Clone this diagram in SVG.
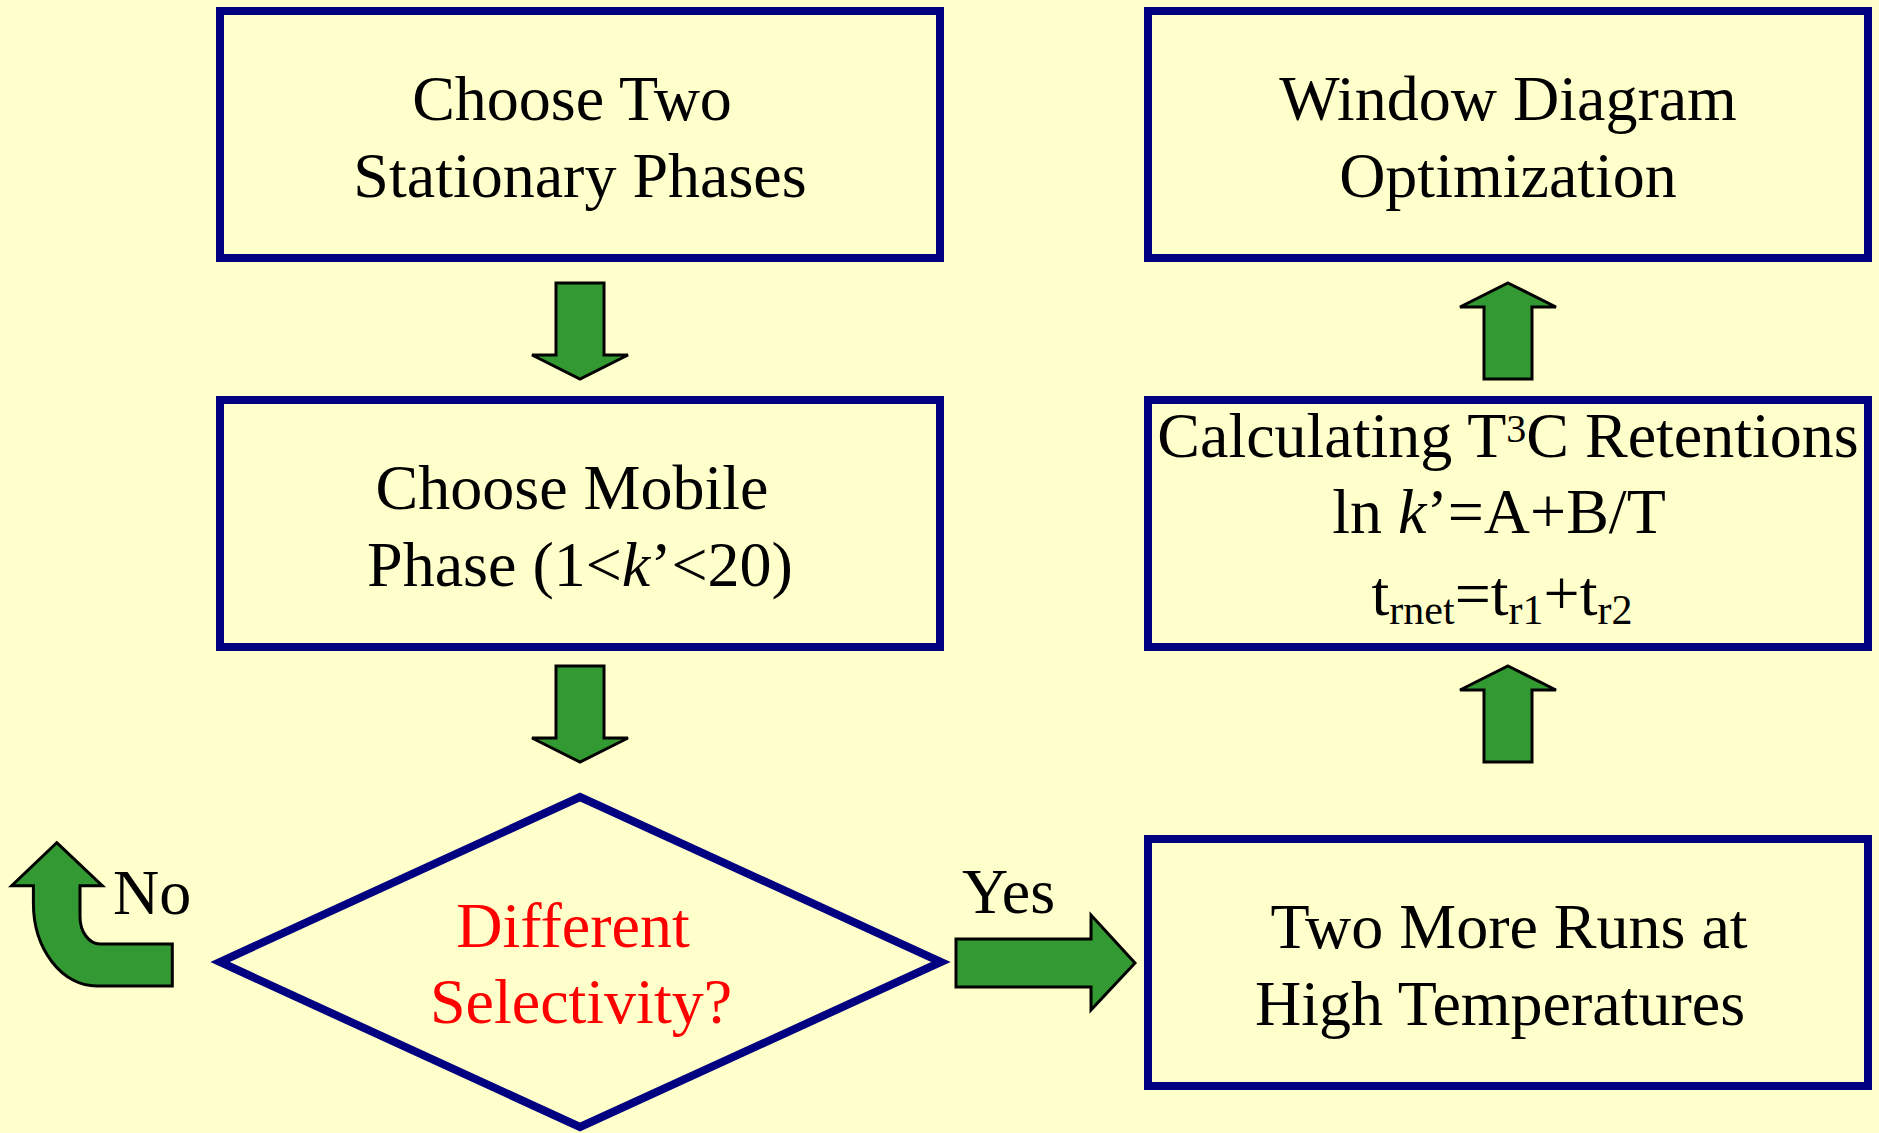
<svg xmlns="http://www.w3.org/2000/svg" width="1879" height="1133" viewBox="0 0 1879 1133">
<style>
.bg{fill:#FFFFCC}
.box{fill:#FFFFCC;stroke:#000080;stroke-width:8}
.arr{fill:#339933;stroke:#000000;stroke-width:3;stroke-linejoin:miter}
.t{font-family:"Liberation Serif","Times New Roman",serif;font-size:64px;fill:#000000;text-anchor:middle}
.red{fill:#FF0000}
.lbl{font-family:"Liberation Serif","Times New Roman",serif;font-size:64px;fill:#000000}
</style>
<rect class="bg" x="0" y="0" width="1879" height="1133"/>
<g id="connectors">
  <polygon class="arr" points="556,283 604,283 604,355 628,355 580,379 532,355 556,355"/>
  <polygon class="arr" points="556,666 604,666 604,738 628,738 580,762 532,738 556,738"/>
  <polygon class="arr" points="1508,283 1556,307 1532,307 1532,379 1484,379 1484,307 1460,307"/>
  <polygon class="arr" points="1508,666 1556,690 1532,690 1532,762 1484,762 1484,690 1460,690"/>
  <polygon class="arr" points="956,939 1091,939 1091,915 1135,963 1091,1010 1091,987 956,987"/>
  <path class="arr" d="M56.7,842.7 L102.3,885.7 L80,885.7 L80,916.7 A20,27.3 0 0 0 100,944 L172.3,944 L172.3,986 L96.7,986 A63.3,82.7 0 0 1 33.4,903.3 L33.4,885.7 L11.7,885.7 Z"/>
  <text class="lbl" x="113" y="914">No</text>
  <text class="lbl" x="962" y="913">Yes</text>
</g>
<g id="node-stationary">
  <rect class="box" x="220" y="11" width="720" height="247"/>
  <text class="t" x="572" y="120">Choose Two</text>
  <text class="t" x="580" y="197">Stationary Phases</text>
</g>
<g id="node-mobile">
  <rect class="box" x="220" y="400" width="720" height="247"/>
  <text class="t" x="572" y="509">Choose Mobile</text>
  <text class="t" x="580" y="586">Phase (1&lt;<tspan font-style="italic">k</tspan>’&lt;20)</text>
</g>
<g id="node-selectivity">
  <polygon class="box" points="580,797 941,962 580,1127 220,962"/>
  <text class="t red" x="573" y="947">Different</text>
  <text class="t red" x="581" y="1023">Selectivity?</text>
</g>
<g id="node-window">
  <rect class="box" x="1148" y="11" width="720" height="247"/>
  <text class="t" x="1508" y="120">Window Diagram</text>
  <text class="t" x="1508" y="197">Optimization</text>
</g>
<g id="node-calculating">
  <rect class="box" x="1148" y="400" width="720" height="247"/>
  <text class="t" x="1508" y="457">Calculating T<tspan font-size="40" dy="-15">3</tspan><tspan dy="15">C Retentions</tspan></text>
  <text class="t" x="1499" y="533">ln <tspan font-style="italic">k</tspan>’=A+B/T</text>
  <text class="t" x="1502" y="615">t<tspan font-size="42" dy="9">rnet</tspan><tspan dy="-9">=t</tspan><tspan font-size="42" dy="9">r1</tspan><tspan dy="-9">+t</tspan><tspan font-size="42" dy="9">r2</tspan></text>
</g>
<g id="node-tworuns">
  <rect class="box" x="1148" y="839" width="720" height="247"/>
  <text class="t" x="1509" y="948">Two More Runs at</text>
  <text class="t" x="1500" y="1025">High Temperatures</text>
</g>
</svg>
